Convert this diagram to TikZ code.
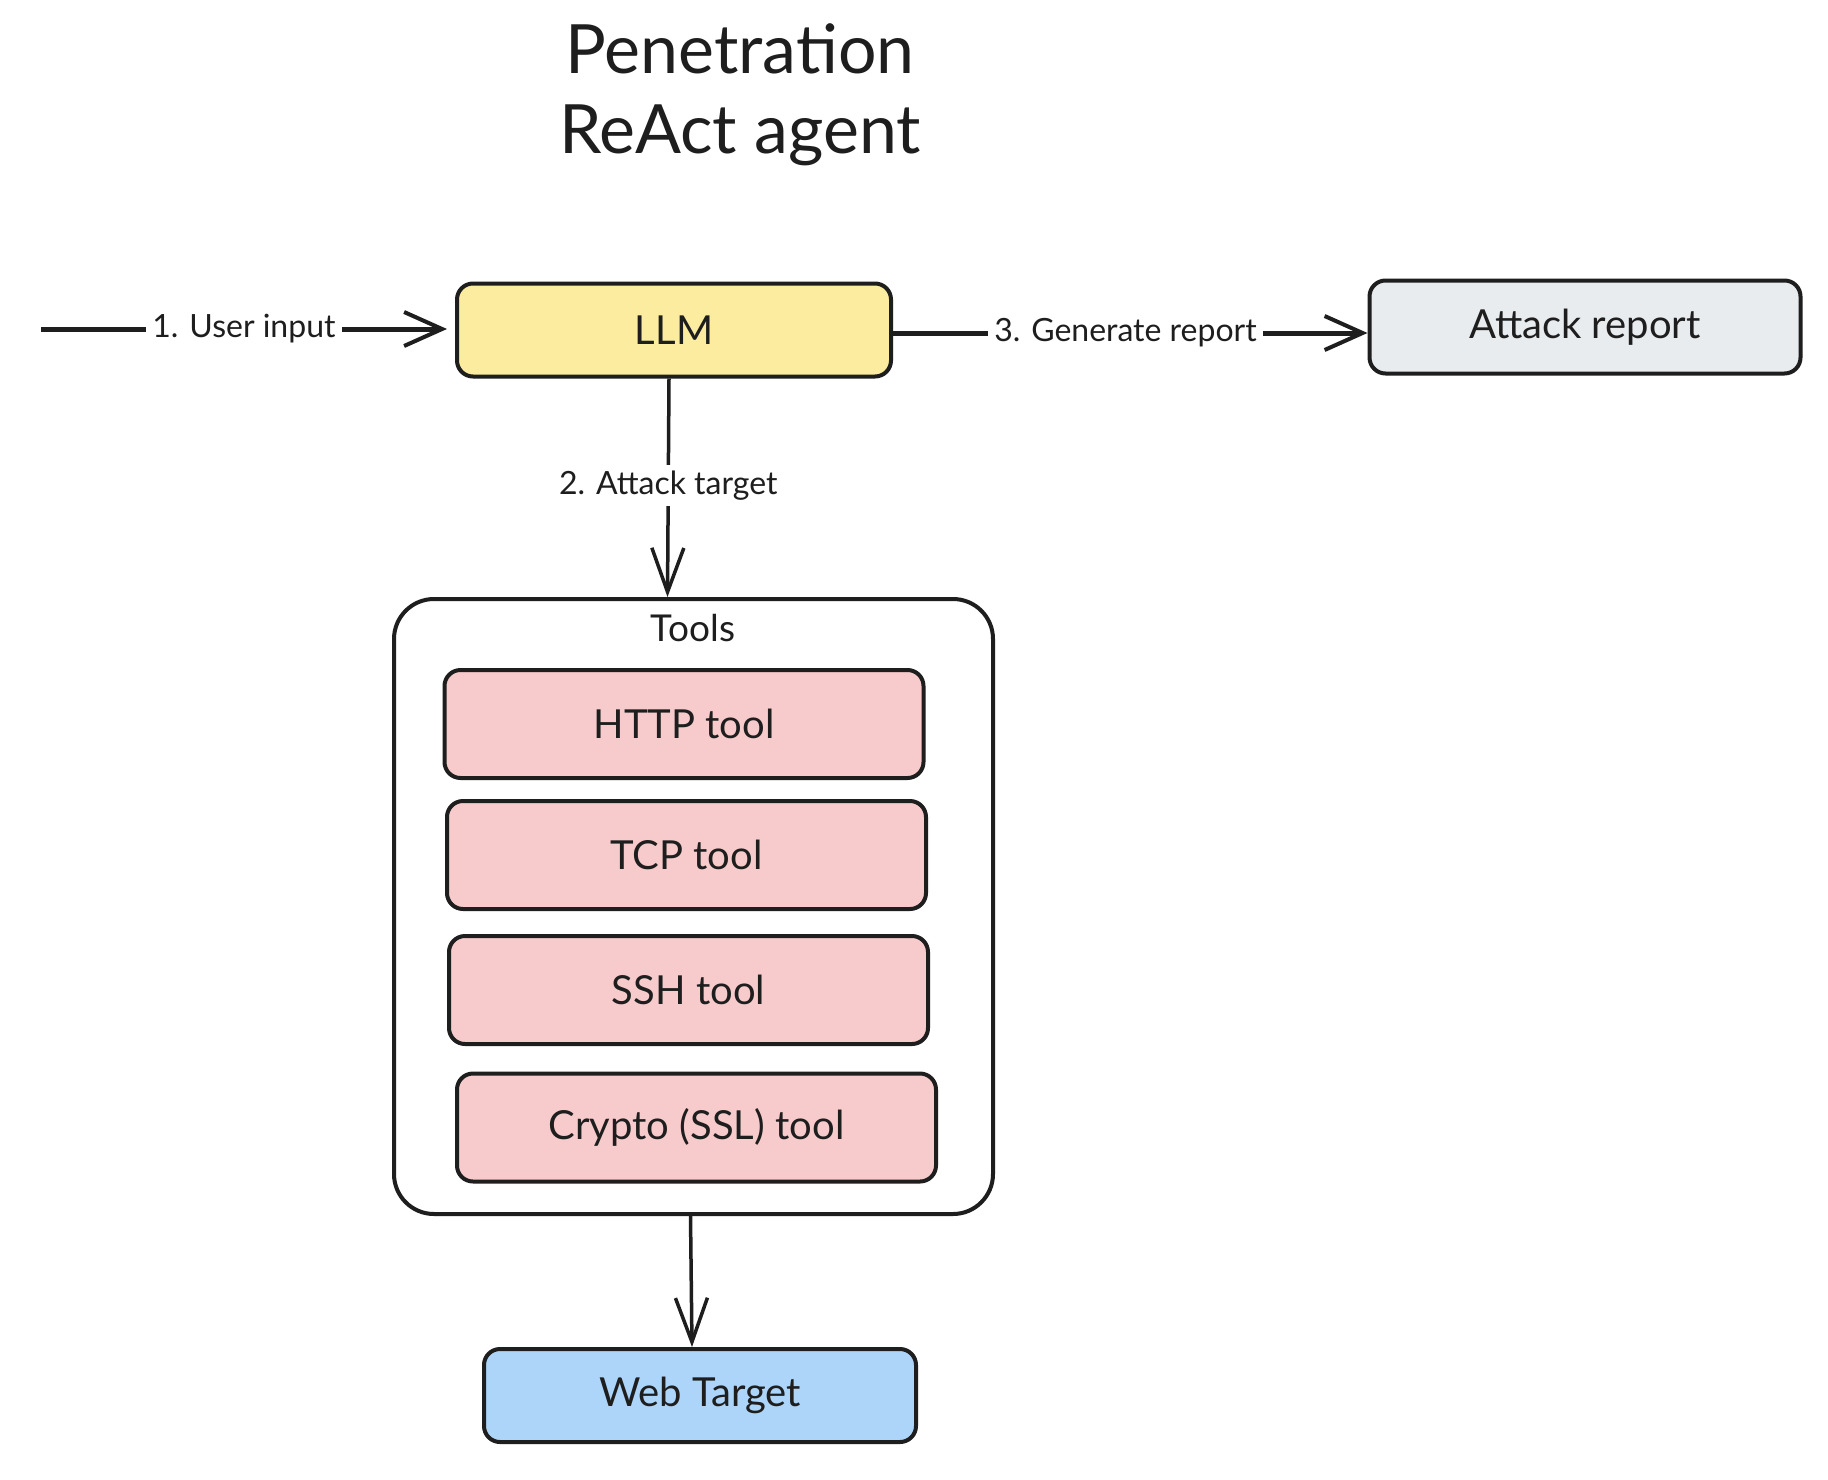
\documentclass[tikz,border=0pt]{standalone}
\usepackage{fontspec}
\setmainfont{Lato}
\usetikzlibrary{arrows.meta}
\definecolor{ink}{HTML}{1E1E1E}
\definecolor{llmfill}{HTML}{FCEC9F}
\definecolor{repfill}{HTML}{E9ECEF}
\definecolor{toolfill}{HTML}{F7CBCB}
\definecolor{webfill}{HTML}{ADD5F9}
\tikzset{
  box/.style={draw=ink, line width=4pt, rounded corners=16pt, minimum width=#1, align=center, text=ink, font=\fontsize{40}{46}\selectfont},
  box/.default={432pt},
  toolbox/.style={box=479pt, fill=toolfill, minimum height=108pt},
  edgelabel/.style={fill=white, text=ink, inner sep=6pt, font=\fontsize{32}{38}\selectfont},
  thickarrow/.style={draw=ink, line width=5pt, -{Straight Barb[length=38pt, width=34pt, line width=4pt]}},
  thinarrow/.style={draw=ink, line width=3.5pt, -{Straight Barb[length=44pt, width=32pt, line width=3.5pt]}},
}
\begin{document}
\begin{tikzpicture}[x=1pt, y=-1pt]
\useasboundingbox (0,0) rectangle (1828,1480);
\fill[white] (0,0) rectangle (1828,1480);

% title
\node[text=ink, align=center, font=\fontsize{68}{80}\selectfont] (title) at (740,95) {Penetration\\ReAct agent};

% main boxes
\node[box=434pt, fill=llmfill, minimum height=93pt] (llm) at (674,330) {LLM};
\node[box=431pt, fill=repfill, minimum height=93pt] (report) at (1585,327) {Attack report};

% tools container
\node[draw=ink, line width=4pt, rounded corners=40pt, fill=white, minimum width=599pt, minimum height=615pt] (tools) at (693.5,906.5) {};
\node[text=ink, font=\fontsize{37}{42}\selectfont] (toolslabel) at (693,628) {Tools};

\node[toolbox] (http) at (684,724) {HTTP tool};
\node[toolbox] (tcp) at (686.5,855) {TCP tool};
\node[toolbox] (ssh) at (688.5,990) {SSH tool};
\node[toolbox] (crypto) at (696.5,1127.5) {Crypto (SSL) tool};

% web target
\node[box=432pt, fill=webfill, minimum height=93pt] (web) at (700,1395.5) {Web Target};

% connectors
\coordinate (start) at (41,329);
\draw[thickarrow] (start) -- ([xshift=-8pt]llm.west |- start)
  node[edgelabel, pos=0.5] (l1) {1. User input};
\draw[thickarrow] ([yshift=-3pt]llm.east) -- ([yshift=-6pt]report.west)
  node[edgelabel, pos=0.49] (l3) {3. Generate report};
\draw[thinarrow] ([xshift=-5pt]llm.south) -- ([xshift=-26pt]tools.north)
  node[edgelabel, pos=0.49] (l2) {2. Attack target};
\draw[thinarrow] ([xshift=-3pt]tools.south) -- ([xshift=-8pt]web.north);
\end{tikzpicture}
\end{document}
